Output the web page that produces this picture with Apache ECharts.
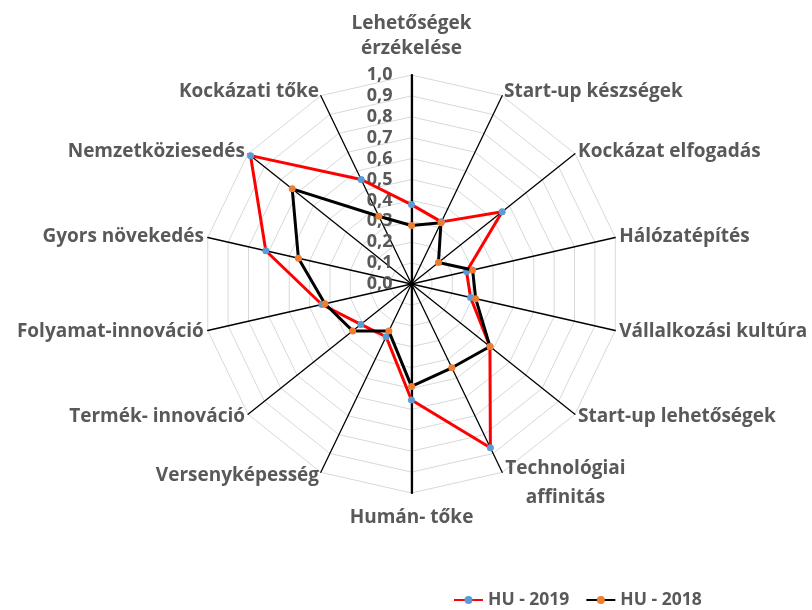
<!DOCTYPE html>
<html>
<head>
<meta charset="utf-8">
<script src="https://cdn.jsdelivr.net/npm/echarts@6/dist/echarts.min.js"></script>
<style>
html,body{margin:0;padding:0;background:#fff;}
#chart{width:812px;height:610px;}
</style>
</head>
<body>
<div id="chart"></div>
<script>
// Indicators, clockwise from the top
const indicators = [
  'Lehetőségek\nérzékelése', 'Start-up készségek', 'Kockázat elfogadás', 'Hálózatépítés',
  'Vállalkozási kultúra', 'Start-up lehetőségek', 'Technológiai\naffinitás', 'Humán- tőke',
  'Versenyképesség', 'Termék- innováció', 'Folyamat-innováció', 'Gyors növekedés',
  'Nemzetköziesedés', 'Kockázati tőke'
];
const hu2019 = [0.38, 0.33, 0.555, 0.27, 0.29, 0.48, 0.87, 0.555, 0.28, 0.31, 0.44, 0.715, 0.985, 0.555];
const hu2018 = [0.28, 0.325, 0.165, 0.30, 0.315, 0.48, 0.445, 0.49, 0.25, 0.36, 0.425, 0.555, 0.73, 0.36];
const seriesNames = ['HU - 2019', 'HU - 2018'];
const tickMin = 0, tickMax = 1, tickStep = 0.1;

const FONT = 'Open Sans';
const TXT = '#595959';
const CENTER = [411.5, 284];
const RADIUS = 209;

// ECharts radar runs counter-clockwise; reorder so the picture runs clockwise
const order = indicators.map((_, i) => (indicators.length - i) % indicators.length);

const base = {fontFamily: FONT, fontWeight: 'bold', fontSize: 19, color: TXT};

function nameFormatter(name) {
  if (name === indicators[0]) {
    return name.split('\n').map(s => '{t|' + s + '}').join('\n') + '\n{gap|}';
  }
  if (name === indicators[7]) {
    return '{gap2|}\n{t|' + name + '}';
  }
  if (name === indicators[6]) {
    return '{gap3|}\n' + name.split('\n').map(s => '{c|' + s + '}').join('\n');
  }
  return name;
}

const chart = echarts.init(document.getElementById('chart'), null, {renderer: 'canvas'});
chart.setOption({
  animation: false,
  backgroundColor: '#fff',
  legend: {
    data: seriesNames,
    left: 448,
    top: 586,
    itemWidth: 29,
    itemHeight: 10,
    itemGap: 16,
    textStyle: {fontFamily: FONT, fontWeight: 'bold', fontSize: 17.5, color: TXT}
  },
  grid: {show: false, left: 0, top: 0, width: 10, height: 10},
  xAxis: {show: false, type: 'value'},
  yAxis: {show: false, type: 'value'},
  radar: {
    center: CENTER,
    radius: RADIUS,
    startAngle: 90,
    splitNumber: 10,
    shape: 'polygon',
    nameGap: 4,
    indicator: order.map(i => ({name: indicators[i], min: tickMin, max: tickMax})),
    axisName: Object.assign({}, base, {
      formatter: nameFormatter,
      rich: {
        t: Object.assign({}, base, {lineHeight: 25, align: 'center'}),
        c: Object.assign({}, base, {lineHeight: 29, width: 123, align: 'center'}),
        gap: {height: 10, lineHeight: 10},
        gap2: {height: 8, lineHeight: 8},
        gap3: {height: 15, lineHeight: 15}
      }
    }),
    splitLine: {lineStyle: {color: '#d9d9d9', width: 1}},
    splitArea: {show: false},
    axisLine: {lineStyle: {color: '#000', width: 1.3}},
    axisTick: {show: false},
    axisLabel: {show: false}
  },
  polar: [
    {center: CENTER, radius: RADIUS},
    {center: CENTER, radius: RADIUS}
  ],
  angleAxis: [
    {polarIndex: 0, type: 'value', startAngle: 90, show: false},
    {polarIndex: 1, type: 'value', startAngle: 270, show: false}
  ],
  radiusAxis: [
    {
      polarIndex: 0, type: 'value', min: tickMin, max: tickMax, interval: tickStep,
      axisLine: {show: true, lineStyle: {color: '#000', width: 2.2}},
      axisTick: {show: false},
      splitLine: {show: false},
      axisLabel: {
        show: true, margin: 19,
        fontFamily: FONT, fontWeight: 'bold', fontSize: 18, color: TXT,
        formatter: v => v.toFixed(1).replace('.', ',')
      }
    },
    {
      polarIndex: 1, type: 'value', min: tickMin, max: tickMax, interval: tickStep,
      axisLine: {show: true, lineStyle: {color: '#000', width: 2.2}},
      axisTick: {show: false},
      splitLine: {show: false},
      axisLabel: {show: false}
    }
  ],
  series: [
    {
      name: seriesNames[0], type: 'line', data: [], symbol: 'circle', symbolSize: 8,
      itemStyle: {color: '#5b9bd5'}, lineStyle: {color: '#ff0000', width: 4}
    },
    {
      name: seriesNames[1], type: 'line', data: [], symbol: 'circle', symbolSize: 8,
      itemStyle: {color: '#ed7d31'}, lineStyle: {color: '#000000', width: 4}
    },
    {
      name: seriesNames[0], type: 'radar', symbol: 'circle', symbolSize: 7,
      itemStyle: {color: '#5b9bd5'},
      lineStyle: {color: '#ff0000', width: 3},
      data: [{value: order.map(i => hu2019[i]), name: seriesNames[0]}],
      z: 3
    },
    {
      name: seriesNames[1], type: 'radar', symbol: 'circle', symbolSize: 7,
      itemStyle: {color: '#ed7d31'},
      lineStyle: {color: '#000000', width: 3},
      data: [{value: order.map(i => hu2018[i]), name: seriesNames[1]}],
      z: 4
    }
  ]
});
</script>
</body>
</html>
